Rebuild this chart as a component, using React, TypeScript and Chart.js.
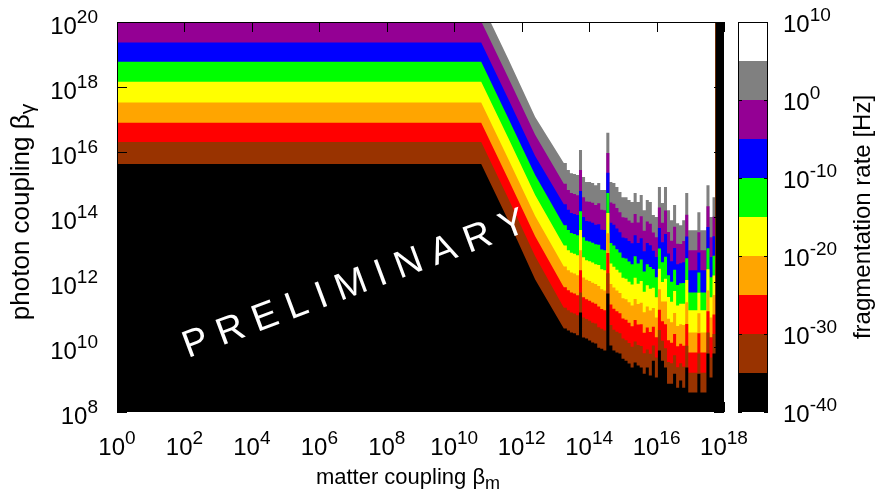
import React, { useEffect, useRef } from "react";
import { Chart, registerables } from "chart.js";
Chart.register(...registerables);

const FONT = '"Liberation Sans", Arial, Helvetica, sans-serif';

// axis ticks (exponents of 10)
const xTickExps = [0, 2, 4, 6, 8, 10, 12, 14, 16, 18];
const yTickExps = [8, 10, 12, 14, 16, 18, 20];
const cbTickExps = [-40, -30, -20, -10, 0, 10];

// colour bar: log10 rate edges and colours (bottom -> top)
const cbEdges = [-40, -35, -30, -25, -20, -15, -10, -5, 0, 5, 10];
const bandColors = ["#000000", "#993300", "#ff0000", "#ffa500", "#ffff00", "#00ff00", "#0000ff", "#940094", "#808080", "#ffffff"];

// log10(beta_m) positions of the smooth part (flat + sloped)
const slopeX = [0, 10.8, 11.6, 12.4];
// log10(beta_m) column edges of the noisy part
const colEdges = [
  13.25, 13.34, 13.43, 13.52, 13.61, 13.7, 13.79, 13.88, 13.97, 14.06,
  14.15, 14.24, 14.33, 14.42, 14.51, 14.6, 14.69, 14.78, 14.87, 14.96,
  15.05, 15.14, 15.23, 15.32, 15.41, 15.5, 15.59, 15.68, 15.77, 15.86,
  15.95, 16.04, 16.13, 16.22, 16.31, 16.4, 16.49, 16.58, 16.67, 16.76,
  16.85, 16.94, 17.03, 17.12, 17.21, 17.3, 17.39, 17.48, 17.57, 17.66, 17.75,
];
const lastColumn = [17.75, 18.0];
const lastColumnLevel = 20;

// contour boundaries, log10(beta_gamma): rate = 1e-35, 1e-30, ... 1e5
const slopeB0 = [15.63, 15.63, 13.9, 12.08];
const slopeB1 = [16.31, 16.31, 14.58, 12.79];
const slopeB2 = [16.9, 16.9, 15.17, 13.41];
const slopeB3 = [17.52, 17.52, 15.79, 14.03];
const slopeB4 = [18.16, 18.16, 16.44, 14.68];
const slopeB5 = [18.78, 18.78, 17.05, 15.29];
const slopeB6 = [19.37, 19.37, 17.64, 15.88];
const slopeB7 = [20.02, 20.02, 18.29, 16.53];
const slopeB8 = [20.6, 20.6, 18.87, 17.08];

const colsB0 = [10.57, 10.51, 10.45, 10.42, 10.36, 11.06, 10.29, 10.26, 10.2, 10.14, 10.11, 9.98, 9.95, 9.89, 11.65, 10.05, 9.89, 9.83, 9.8, 9.64, 9.58, 9.49, 9.37, 9.52, 9.43, 9.37, 9.18, 9.37, 9.12, 9.58, 9.06, 9.89, 9.58, 9.37, 8.87, 8.87, 9.18, 8.75, 8.97, 8.75, 9.37, 8.6, 8.6, 8.6, 9.18, 8.6, 8.6, 9.8, 9.06, 9.8];
const colsB1 = [11.21, 11.13, 11.06, 11.03, 10.98, 11.68, 10.91, 10.86, 10.81, 10.75, 10.72, 10.61, 10.56, 10.51, 12.27, 10.68, 10.53, 10.47, 10.42, 10.26, 10.21, 10.12, 10.01, 10.17, 10.06, 10.03, 9.81, 9.92, 9.79, 10.05, 9.68, 10.52, 10.19, 9.96, 9.54, 9.5, 9.75, 9.38, 9.5, 9.39, 10.04, 9.21, 9.21, 9.21, 9.8, 9.21, 9.21, 10.45, 9.68, 10.4];
const colsB2 = [11.84, 11.75, 11.68, 11.65, 11.59, 12.36, 11.53, 11.47, 11.42, 11.37, 11.33, 11.25, 11.17, 11.13, 12.89, 11.31, 11.18, 11.1, 11.04, 10.88, 10.84, 10.75, 10.64, 10.83, 10.69, 10.7, 10.44, 10.6, 10.46, 10.62, 10.3, 11.15, 10.79, 10.7, 10.21, 10.13, 10.4, 10.02, 10.1, 10.04, 10.71, 9.83, 9.83, 9.83, 10.42, 9.83, 9.83, 11.1, 10.3, 11.0];
const colsB3 = [12.48, 12.36, 12.29, 12.26, 12.21, 12.98, 12.14, 12.07, 12.03, 11.98, 11.94, 11.88, 11.78, 11.74, 13.5, 11.94, 11.83, 11.74, 11.66, 11.5, 11.47, 11.38, 11.28, 11.48, 11.32, 11.36, 11.07, 11.25, 11.12, 11.2, 10.91, 11.78, 11.4, 11.4, 10.87, 10.76, 11.05, 10.65, 10.7, 10.68, 11.38, 10.45, 10.45, 10.45, 11.04, 10.45, 10.45, 11.74, 10.91, 11.6];
const colsB4 = [13.12, 12.98, 12.9, 12.87, 12.82, 13.6, 12.76, 12.67, 12.64, 12.6, 12.55, 12.52, 12.39, 12.36, 14.12, 12.57, 12.47, 12.38, 12.29, 12.13, 12.1, 12.01, 11.92, 12.13, 11.95, 12.03, 11.7, 11.9, 11.79, 11.82, 11.53, 12.41, 12.0, 12.1, 11.54, 11.39, 11.72, 11.28, 11.33, 11.33, 12.06, 11.13, 11.13, 11.13, 11.67, 11.13, 11.13, 12.39, 11.53, 12.2];
const colsB5 = [13.75, 13.6, 13.51, 13.48, 13.44, 14.18, 13.38, 13.27, 13.25, 13.21, 13.16, 13.15, 13.0, 12.98, 14.74, 13.2, 13.12, 13.01, 12.91, 12.75, 12.72, 12.63, 12.55, 12.79, 12.57, 12.69, 12.32, 12.55, 12.46, 12.4, 12.15, 13.03, 12.61, 12.78, 12.21, 12.01, 12.38, 11.91, 11.96, 11.97, 12.73, 11.68, 11.68, 11.68, 12.29, 11.68, 11.68, 13.04, 12.15, 12.81];
const colsB6 = [14.39, 14.22, 14.12, 14.09, 14.06, 14.8, 14.0, 13.88, 13.86, 13.82, 13.76, 13.78, 13.61, 13.6, 15.36, 13.82, 13.76, 13.65, 13.53, 13.37, 13.35, 13.26, 13.19, 13.44, 13.2, 13.35, 12.95, 13.2, 13.13, 12.96, 12.77, 13.66, 13.22, 13.48, 12.88, 12.64, 13.05, 12.55, 12.58, 12.61, 13.4, 12.36, 12.36, 12.36, 12.91, 12.36, 12.36, 13.69, 12.77, 13.41];
const colsB7 = [15.02, 14.83, 14.74, 14.71, 14.67, 15.45, 14.61, 14.48, 14.47, 14.44, 14.37, 14.42, 14.22, 14.21, 15.97, 14.45, 14.41, 14.28, 14.15, 13.99, 13.98, 13.89, 13.82, 14.09, 13.83, 14.02, 13.58, 13.86, 13.79, 13.52, 13.38, 14.29, 13.82, 14.2, 13.54, 13.27, 13.7, 13.18, 13.17, 13.26, 14.07, 12.98, 12.98, 12.98, 13.53, 12.98, 12.98, 14.33, 13.38, 14.01];
const colsB8 = [15.66, 15.45, 15.35, 15.32, 15.29, 16.06, 15.23, 15.08, 15.08, 15.05, 14.98, 15.05, 14.83, 14.83, 16.59, 15.08, 15.05, 14.92, 14.77, 14.61, 14.61, 14.52, 14.46, 14.74, 14.46, 14.68, 14.21, 14.52, 14.46, 14.06, 14.0, 14.92, 14.43, 14.92, 14.21, 13.9, 14.37, 13.81, 13.75, 13.9, 14.74, 13.59, 13.59, 13.59, 14.15, 13.59, 13.59, 14.98, 14.0, 14.61];

const boundarySlopes = [slopeB0, slopeB1, slopeB2, slopeB3, slopeB4, slopeB5, slopeB6, slopeB7, slopeB8];
const boundaryCols = [colsB0, colsB1, colsB2, colsB3, colsB4, colsB5, colsB6, colsB7, colsB8];

function buildPoints(slope: number[], cols: number[]) {
  const pts: { x: number; y: number }[] = slopeX.map((x, i) => ({ x, y: slope[i] }));
  cols.forEach((v, i) => {
    pts.push({ x: colEdges[i], y: v });
    pts.push({ x: colEdges[i + 1], y: v });
  });
  pts.push({ x: lastColumn[0], y: lastColumnLevel });
  pts.push({ x: lastColumn[1], y: lastColumnLevel });
  return pts;
}

function drawPow(ctx: CanvasRenderingContext2D, exp: string, x: number, y: number, align: string) {
  ctx.font = `24px ${FONT}`;
  const wb = ctx.measureText("10").width;
  ctx.font = `19px ${FONT}`;
  const ws = ctx.measureText(exp).width;
  const total = wb + ws;
  const sx = align === "center" ? x - total / 2 : align === "right" ? x - total : x;
  ctx.textAlign = "left";
  ctx.textBaseline = "alphabetic";
  ctx.font = `24px ${FONT}`;
  ctx.fillText("10", sx, y);
  ctx.font = `19px ${FONT}`;
  ctx.fillText(exp, sx + wb, y - 11);
}

function drawSubText(ctx: CanvasRenderingContext2D, main: string, sub: string, cx: number, y: number, size: number) {
  const subSize = Math.round(size * 0.8);
  ctx.font = `${size}px ${FONT}`;
  const wm = ctx.measureText(main).width;
  ctx.font = `${subSize}px ${FONT}`;
  const ws = ctx.measureText(sub).width;
  const sx = cx - (wm + ws) / 2;
  ctx.textAlign = "left";
  ctx.textBaseline = "alphabetic";
  ctx.font = `${size}px ${FONT}`;
  ctx.fillText(main, sx, y);
  ctx.font = `${subSize}px ${FONT}`;
  ctx.fillText(sub, sx + wm, y + 5);
}

const decorPlugin = {
  id: "decor",
  afterDraw(chart: any) {
    const ctx: CanvasRenderingContext2D = chart.ctx;
    const xs = chart.scales.x;
    const ys = chart.scales.y;
    const cb = chart.scales.cb;
    const a = chart.chartArea;
    ctx.save();

    // PRELIMINARY watermark
    ctx.save();
    ctx.translate(188, 358);
    ctx.rotate((-20.5 * Math.PI) / 180);
    ctx.fillStyle = "#ffffff";
    ctx.font = `38px ${FONT}`;
    ctx.textAlign = "left";
    ctx.textBaseline = "alphabetic";
    ctx.fillText("P R E L I M I N A R Y", 0, 0);
    ctx.restore();

    // border and ticks
    ctx.strokeStyle = "#000000";
    ctx.lineWidth = 1;
    ctx.strokeRect(a.left + 0.5, a.top + 0.5, a.right - a.left - 1, a.bottom - a.top - 1);
    ctx.beginPath();
    xTickExps.forEach((e) => {
      const px = Math.round(xs.getPixelForValue(e)) + 0.5;
      ctx.moveTo(px, a.bottom);
      ctx.lineTo(px, a.bottom - 10);
      ctx.moveTo(px, a.top);
      ctx.lineTo(px, a.top + 10);
    });
    yTickExps.forEach((e) => {
      const py = Math.round(ys.getPixelForValue(e)) + 0.5;
      ctx.moveTo(a.left, py);
      ctx.lineTo(a.left + 10, py);
      ctx.moveTo(a.right, py);
      ctx.lineTo(a.right - 10, py);
    });
    ctx.stroke();

    // tick labels
    ctx.fillStyle = "#000000";
    xTickExps.forEach((e) => drawPow(ctx, String(e), xs.getPixelForValue(e), 455, "center"));
    yTickExps.forEach((e) => drawPow(ctx, String(e), 98, ys.getPixelForValue(e) + 12, "right"));

    // axis titles
    drawSubText(ctx, "matter coupling \u03b2", "m", 408, 484, 22);
    ctx.save();
    ctx.translate(29, 212);
    ctx.rotate(-Math.PI / 2);
    drawSubText(ctx, "photon coupling \u03b2", "\u03b3", 0, 0, 26);
    ctx.restore();

    // colour bar
    const cbL = 738;
    const cbW = 30;
    for (let i = 0; i < bandColors.length; i++) {
      const y1 = cb.getPixelForValue(cbEdges[i]);
      const y2 = cb.getPixelForValue(cbEdges[i + 1]);
      ctx.fillStyle = bandColors[i];
      ctx.fillRect(cbL, y2, cbW, y1 - y2);
    }
    ctx.strokeStyle = "#000000";
    ctx.strokeRect(cbL + 0.5, cb.top + 0.5, cbW - 1, cb.bottom - cb.top - 1);
    ctx.beginPath();
    cbTickExps.forEach((e) => {
      const py = Math.round(cb.getPixelForValue(e)) + 0.5;
      ctx.moveTo(cbL, py);
      ctx.lineTo(cbL + 4, py);
      ctx.moveTo(cbL + cbW, py);
      ctx.lineTo(cbL + cbW - 4, py);
    });
    ctx.stroke();
    ctx.fillStyle = "#000000";
    cbTickExps.forEach((e) => drawPow(ctx, String(e), 783, cb.getPixelForValue(e) + 10, "left"));

    ctx.save();
    ctx.translate(870, (cb.top + cb.bottom) / 2);
    ctx.rotate(-Math.PI / 2);
    ctx.font = `24px ${FONT}`;
    ctx.textAlign = "center";
    ctx.textBaseline = "alphabetic";
    ctx.fillText("fragmentation rate [Hz]", 0, 0);
    ctx.restore();

    ctx.restore();
  },
};

export default function App() {
  const ref = useRef<HTMLCanvasElement | null>(null);
  useEffect(() => {
    if (!ref.current) return;
    const datasets = boundarySlopes.map((s, j) => ({
      data: buildPoints(s, boundaryCols[j]),
      backgroundColor: bandColors[j],
      borderColor: "rgba(0,0,0,0)",
      borderWidth: 1,
      pointRadius: 0,
      pointHoverRadius: 0,
      tension: 0,
      fill: "start",
      order: j,
    }));
    const chart = new Chart(ref.current, {
      type: "line",
      data: { datasets },
      options: {
        animation: false,
        responsive: false,
        maintainAspectRatio: false,
        devicePixelRatio: 1,
        events: [],
        layout: { padding: { left: 117, right: 156, top: 22, bottom: 81 } },
        plugins: { legend: { display: false }, tooltip: { enabled: false } },
        scales: {
          x: { type: "linear", min: 0, max: 18, display: false },
          y: { type: "linear", min: 8, max: 20, display: false },
          cb: { type: "linear", axis: "y", min: -40, max: 10, display: false },
        },
      } as any,
      plugins: [decorPlugin],
    });
    return () => chart.destroy();
  }, []);
  return (
    <canvas
      ref={ref}
      width={880}
      height={493}
      style={{ position: "absolute", left: 0, top: 0, width: 880, height: 493 }}
    />
  );
}
